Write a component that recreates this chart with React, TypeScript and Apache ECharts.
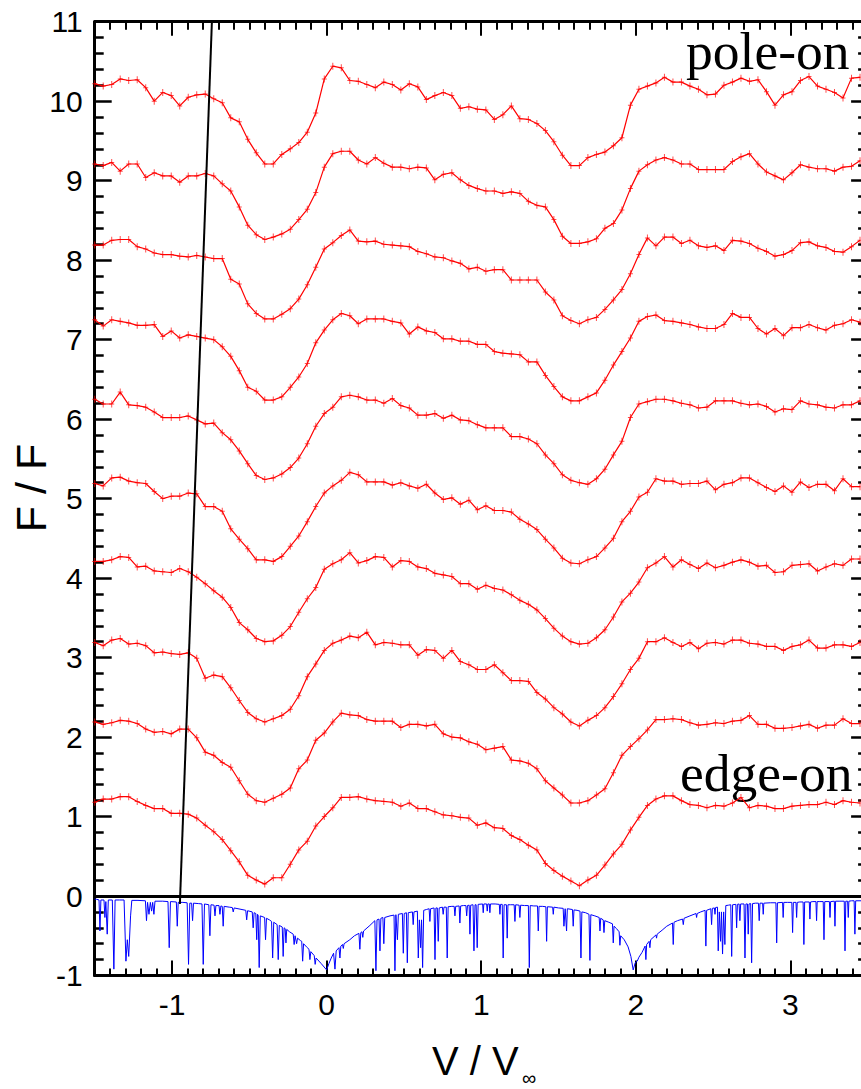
import React, { useEffect, useRef } from "react";
import * as echarts from "echarts";

// velocity grid of the model profiles (V / V_inf)
const velocity = [
  -1.5, -1.445, -1.39, -1.335, -1.28, -1.225, -1.17, -1.115, -1.06, -1.005,
  -0.95, -0.895, -0.84, -0.785, -0.73, -0.675, -0.62, -0.565, -0.51, -0.455,
  -0.4, -0.345, -0.29, -0.235, -0.18, -0.125, -0.07, -0.015, 0.04, 0.095,
  0.15, 0.205, 0.26, 0.315, 0.37, 0.425, 0.48, 0.535, 0.59, 0.645,
  0.7, 0.755, 0.81, 0.865, 0.92, 0.975, 1.03, 1.085, 1.14, 1.195,
  1.25, 1.305, 1.36, 1.415, 1.47, 1.525, 1.58, 1.635, 1.69, 1.745,
  1.8, 1.855, 1.91, 1.965, 2.02, 2.075, 2.13, 2.185, 2.24, 2.295,
  2.35, 2.405, 2.46, 2.515, 2.57, 2.625, 2.68, 2.735, 2.79, 2.845,
  2.9, 2.955, 3.01, 3.065, 3.12, 3.175, 3.23, 3.285, 3.34, 3.395, 3.45,
];

// profiles, from edge-on (1) to pole-on (10), offset by 1 each
const profile1 = [
  1.18, 1.22, 1.22, 1.25, 1.25, 1.19, 1.14, 1.1, 1.1, 1.04, 1.04, 1.03, 0.98, 0.89, 0.81, 0.71, 0.57, 0.43, 0.26, 0.2,
  0.15, 0.23, 0.23, 0.4, 0.58, 0.69, 0.88, 1.0, 1.11, 1.24, 1.24, 1.25, 1.22, 1.2, 1.19, 1.18, 1.13, 1.17, 1.1, 1.1,
  1.06, 1.02, 1.01, 0.99, 0.98, 0.89, 0.92, 0.86, 0.85, 0.76, 0.71, 0.64, 0.58, 0.41, 0.32, 0.25, 0.19, 0.13, 0.2, 0.26,
  0.39, 0.53, 0.65, 0.83, 0.99, 1.14, 1.22, 1.26, 1.26, 1.2, 1.15, 1.14, 1.11, 1.14, 1.13, 1.17, 1.24, 1.11, 1.14, 1.13,
  1.1, 1.1, 1.13, 1.14, 1.15, 1.15, 1.18, 1.15, 1.2, 1.18, 1.17,
];
const profile2 = [
  2.19, 2.16, 2.18, 2.21, 2.2, 2.17, 2.1, 2.06, 2.07, 2.04, 2.1, 2.1, 1.99, 1.81, 1.77, 1.68, 1.62, 1.45, 1.28, 1.2,
  1.18, 1.23, 1.28, 1.36, 1.6, 1.71, 1.96, 2.05, 2.19, 2.3, 2.28, 2.27, 2.22, 2.2, 2.2, 2.2, 2.12, 2.16, 2.16, 2.14,
  2.16, 2.04, 2.0, 1.99, 1.94, 1.91, 1.84, 1.86, 1.88, 1.71, 1.7, 1.67, 1.6, 1.45, 1.36, 1.27, 1.17, 1.17, 1.2, 1.27,
  1.35, 1.55, 1.77, 1.88, 1.98, 2.09, 2.22, 2.22, 2.23, 2.22, 2.18, 2.15, 2.16, 2.18, 2.17, 2.2, 2.21, 2.27, 2.16, 2.16,
  2.11, 2.11, 2.12, 2.14, 2.16, 2.11, 2.15, 2.15, 2.23, 2.17, 2.17,
];
const profile3 = [
  3.19, 3.15, 3.22, 3.24, 3.17, 3.18, 3.15, 3.06, 3.07, 3.05, 3.04, 3.06, 2.99, 2.74, 2.78, 2.76, 2.62, 2.46, 2.31, 2.23,
  2.19, 2.23, 2.27, 2.35, 2.52, 2.76, 2.92, 3.09, 3.18, 3.22, 3.27, 3.25, 3.32, 3.16, 3.19, 3.18, 3.16, 3.16, 3.03, 3.1,
  3.09, 2.99, 3.09, 2.95, 2.91, 2.85, 2.85, 2.91, 2.81, 2.71, 2.71, 2.7, 2.56, 2.48, 2.37, 2.29, 2.19, 2.14, 2.21, 2.27,
  2.37, 2.51, 2.67, 2.85, 2.99, 3.2, 3.2, 3.25, 3.19, 3.14, 3.19, 3.11, 3.18, 3.19, 3.17, 3.22, 3.22, 3.18, 3.17, 3.14,
  3.14, 3.09, 3.14, 3.16, 3.22, 3.12, 3.12, 3.16, 3.16, 3.14, 3.19,
];
const profile4 = [
  4.21, 4.21, 4.23, 4.27, 4.26, 4.14, 4.15, 4.09, 4.08, 4.07, 4.12, 4.08, 4.01, 3.93, 3.84, 3.76, 3.63, 3.44, 3.35, 3.24,
  3.2, 3.21, 3.28, 3.39, 3.57, 3.74, 3.88, 4.11, 4.18, 4.23, 4.32, 4.19, 4.22, 4.27, 4.26, 4.14, 4.22, 4.21, 4.14, 4.12,
  4.06, 4.04, 4.02, 3.93, 3.93, 3.86, 3.91, 3.87, 3.85, 3.79, 3.72, 3.67, 3.6, 3.49, 3.37, 3.27, 3.2, 3.17, 3.18, 3.25,
  3.35, 3.51, 3.7, 3.81, 3.95, 4.13, 4.19, 4.27, 4.14, 4.23, 4.17, 4.12, 4.19, 4.13, 4.16, 4.2, 4.23, 4.2, 4.15, 4.16,
  4.07, 4.08, 4.16, 4.17, 4.18, 4.09, 4.14, 4.18, 4.16, 4.24, 4.24,
];
const profile5 = [
  5.19, 5.16, 5.26, 5.27, 5.22, 5.2, 5.19, 5.09, 5.0, 5.03, 5.03, 5.07, 5.06, 4.9, 4.9, 4.84, 4.62, 4.49, 4.37, 4.23,
  4.23, 4.21, 4.27, 4.4, 4.53, 4.71, 4.9, 5.07, 5.16, 5.23, 5.33, 5.3, 5.21, 5.21, 5.21, 5.17, 5.2, 5.16, 5.13, 5.18,
  5.07, 4.99, 5.01, 4.93, 4.98, 4.86, 4.91, 4.85, 4.85, 4.83, 4.74, 4.68, 4.61, 4.49, 4.38, 4.25, 4.19, 4.18, 4.23, 4.27,
  4.38, 4.5, 4.71, 4.84, 5.02, 5.08, 5.25, 5.22, 5.22, 5.18, 5.19, 5.19, 5.22, 5.11, 5.18, 5.2, 5.26, 5.26, 5.2, 5.14,
  5.09, 5.16, 5.08, 5.21, 5.14, 5.18, 5.18, 5.1, 5.25, 5.15, 5.15,
];
const profile6 = [
  6.25, 6.19, 6.19, 6.34, 6.18, 6.17, 6.15, 6.09, 6.02, 6.02, 6.02, 6.04, 5.99, 5.94, 5.95, 5.83, 5.74, 5.6, 5.44, 5.29,
  5.24, 5.26, 5.31, 5.39, 5.51, 5.69, 5.91, 6.07, 6.15, 6.28, 6.3, 6.28, 6.24, 6.24, 6.2, 6.26, 6.17, 6.14, 6.05, 6.05,
  6.07, 6.01, 6.05, 5.99, 5.98, 5.93, 5.89, 5.89, 5.89, 5.78, 5.78, 5.75, 5.69, 5.55, 5.44, 5.3, 5.23, 5.2, 5.18, 5.25,
  5.37, 5.55, 5.72, 6.02, 6.19, 6.22, 6.25, 6.25, 6.23, 6.2, 6.18, 6.14, 6.15, 6.23, 6.23, 6.23, 6.2, 6.18, 6.19, 6.16,
  6.09, 6.13, 6.12, 6.23, 6.19, 6.18, 6.15, 6.14, 6.18, 6.18, 6.23,
];
const profile7 = [
  7.25, 7.17, 7.25, 7.23, 7.21, 7.18, 7.18, 7.19, 7.04, 7.11, 7.02, 7.06, 7.04, 7.02, 7.0, 6.91, 6.79, 6.61, 6.4, 6.35,
  6.24, 6.24, 6.28, 6.4, 6.53, 6.7, 6.96, 7.12, 7.25, 7.33, 7.3, 7.2, 7.26, 7.26, 7.26, 7.23, 7.21, 7.07, 7.16, 7.11,
  7.09, 7.01, 7.01, 6.98, 6.98, 6.94, 6.94, 6.85, 6.83, 6.82, 6.81, 6.72, 6.72, 6.55, 6.41, 6.28, 6.23, 6.23, 6.28, 6.33,
  6.49, 6.68, 6.85, 7.02, 7.23, 7.29, 7.31, 7.24, 7.23, 7.21, 7.19, 7.16, 7.14, 7.14, 7.19, 7.33, 7.28, 7.28, 7.14, 7.07,
  7.14, 7.05, 7.15, 7.15, 7.19, 7.15, 7.12, 7.18, 7.2, 7.25, 7.22,
];
const profile8 = [
  8.19, 8.19, 8.25, 8.26, 8.26, 8.17, 8.14, 8.09, 8.07, 8.07, 8.05, 8.04, 8.06, 8.04, 8.02, 8.02, 7.76, 7.7, 7.45, 7.33,
  7.26, 7.26, 7.32, 7.39, 7.51, 7.69, 7.91, 8.14, 8.22, 8.31, 8.38, 8.24, 8.23, 8.24, 8.2, 8.19, 8.18, 8.17, 8.11, 8.08,
  8.04, 8.03, 7.99, 7.96, 7.89, 7.91, 7.86, 7.88, 7.88, 7.75, 7.75, 7.75, 7.75, 7.6, 7.5, 7.3, 7.24, 7.2, 7.25, 7.28,
  7.38, 7.5, 7.63, 7.83, 8.07, 8.28, 8.18, 8.29, 8.29, 8.21, 8.25, 8.18, 8.16, 8.18, 8.12, 8.25, 8.24, 8.21, 8.15, 8.11,
  8.05, 8.07, 8.12, 8.22, 8.23, 8.18, 8.16, 8.11, 8.1, 8.17, 8.25,
];
const profile9 = [
  9.21, 9.19, 9.23, 9.12, 9.21, 9.21, 9.04, 9.1, 9.06, 9.06, 8.98, 9.06, 9.06, 9.09, 9.06, 8.96, 8.87, 8.67, 8.44, 8.32,
  8.26, 8.29, 8.33, 8.39, 8.51, 8.64, 8.85, 9.17, 9.34, 9.37, 9.37, 9.26, 9.21, 9.29, 9.22, 9.17, 9.17, 9.15, 9.17, 9.16,
  9.01, 9.08, 9.1, 9.01, 8.94, 8.9, 8.87, 8.87, 8.84, 8.86, 8.84, 8.74, 8.69, 8.67, 8.51, 8.3, 8.21, 8.21, 8.23, 8.27,
  8.4, 8.46, 8.63, 8.9, 9.12, 9.2, 9.26, 9.29, 9.26, 9.21, 9.21, 9.14, 9.14, 9.14, 9.14, 9.24, 9.3, 9.34, 9.21, 9.11,
  9.06, 9.01, 9.1, 9.2, 9.17, 9.15, 9.15, 9.12, 9.17, 9.18, 9.25,
];
const profile10 = [
  10.22, 10.19, 10.21, 10.28, 10.26, 10.27, 10.17, 10.0, 10.11, 10.07, 9.94, 10.05, 10.08, 10.09, 10.03, 9.98, 9.79, 9.74, 9.52, 9.35,
  9.21, 9.21, 9.33, 9.4, 9.48, 9.61, 9.85, 10.28, 10.44, 10.42, 10.26, 10.25, 10.21, 10.17, 10.24, 10.21, 10.14, 10.22, 10.18, 10.02,
  10.07, 10.11, 10.07, 9.91, 9.93, 9.9, 9.89, 9.77, 9.83, 9.94, 9.78, 9.77, 9.72, 9.63, 9.49, 9.32, 9.19, 9.19, 9.29, 9.33,
  9.36, 9.44, 9.54, 9.95, 10.15, 10.19, 10.23, 10.3, 10.24, 10.24, 10.19, 10.15, 10.08, 10.09, 10.2, 10.24, 10.29, 10.25, 10.27, 10.12,
  9.95, 10.08, 10.12, 10.26, 10.31, 10.19, 10.15, 10.11, 10.04, 10.29, 10.3,
];
const profiles = [profile1, profile2, profile3, profile4, profile5, profile6, profile7, profile8, profile9, profile10];

// observed (blue) spectrum, [V/V_inf, flux - 1]
const spectrum: [number, number][] = [
  [-1.5, -0.04], [-1.49, -0.04],
  [-1.472, -0.05], [-1.466, -0.44], [-1.46, -0.05],
  [-1.44, -0.05], [-1.434, -0.27], [-1.428, -0.07], [-1.419, -0.48], [-1.412, -0.05],
  [-1.386, -0.05], [-1.376, -0.92], [-1.368, -0.05],
  [-1.34, -0.05],
  [-1.31, -0.05], [-1.298, -0.82], [-1.289, -0.55], [-1.28, -0.76], [-1.268, -0.25], [-1.26, -0.055],
  [-1.22, -0.055],
  [-1.172, -0.06], [-1.165, -0.31], [-1.158, -0.08], [-1.149, -0.23], [-1.14, -0.08], [-1.132, -0.19], [-1.125, -0.08], [-1.117, -0.23], [-1.11, -0.065],
  [-1.06, -0.065],
  [-1.026, -0.07], [-1.018, -0.65], [-1.01, -0.07],
  [-0.972, -0.075], [-0.966, -0.38], [-0.96, -0.08],
  [-0.93, -0.08],
  [-0.902, -0.085], [-0.893, -0.86], [-0.885, -0.09],
  [-0.873, -0.09], [-0.867, -0.31], [-0.861, -0.09],
  [-0.83, -0.095],
  [-0.806, -0.1], [-0.798, -0.86], [-0.79, -0.1],
  [-0.762, -0.11], [-0.755, -0.5], [-0.748, -0.11],
  [-0.728, -0.115], [-0.722, -0.25], [-0.716, -0.12],
  [-0.696, -0.12], [-0.69, -0.23], [-0.684, -0.125],
  [-0.675, -0.13], [-0.669, -0.38], [-0.663, -0.13],
  [-0.63, -0.14],
  [-0.61, -0.145], [-0.604, -0.2], [-0.598, -0.15],
  [-0.56, -0.165],
  [-0.523, -0.18], [-0.517, -0.3], [-0.511, -0.185],
  [-0.481, -0.2], [-0.475, -0.4], [-0.469, -0.21],
  [-0.458, -0.22], [-0.452, -0.55], [-0.447, -0.23],
  [-0.443, -0.24], [-0.436, -0.9], [-0.429, -0.25],
  [-0.401, -0.27], [-0.395, -0.55], [-0.389, -0.28],
  [-0.37, -0.3],
  [-0.356, -0.32], [-0.349, -0.78], [-0.342, -0.33],
  [-0.32, -0.36], [-0.313, -0.8], [-0.306, -0.37],
  [-0.287, -0.39], [-0.281, -0.76], [-0.275, -0.4],
  [-0.268, -0.41], [-0.263, -0.59], [-0.258, -0.42],
  [-0.24, -0.45],
  [-0.216, -0.48], [-0.21, -0.61], [-0.204, -0.5], [-0.194, -0.6], [-0.188, -0.53],
  [-0.17, -0.56],
  [-0.161, -0.57], [-0.155, -0.82], [-0.149, -0.6],
  [-0.13, -0.64],
  [-0.114, -0.67], [-0.108, -0.8], [-0.102, -0.7],
  [-0.08, -0.75], [-0.074, -0.86], [-0.068, -0.78],
  [-0.035, -0.85],
  [0, -0.93],
  [0.015, -0.85],
  [0.03, -0.78],
  [0.045, -0.72], [0.054, -0.92], [0.062, -0.69],
  [0.08, -0.65], [0.086, -0.78], [0.092, -0.63],
  [0.103, -0.61], [0.108, -0.66], [0.113, -0.6],
  [0.15, -0.55],
  [0.18, -0.5],
  [0.209, -0.47], [0.215, -0.67], [0.221, -0.46],
  [0.229, -0.45], [0.234, -0.52], [0.239, -0.44],
  [0.28, -0.37],
  [0.312, -0.31], [0.319, -0.94], [0.326, -0.3],
  [0.339, -0.29], [0.345, -0.69], [0.351, -0.28],
  [0.364, -0.27], [0.37, -0.6], [0.376, -0.27],
  [0.41, -0.25],
  [0.436, -0.24], [0.442, -0.94], [0.448, -0.235],
  [0.452, -0.235], [0.458, -0.55], [0.464, -0.23],
  [0.49, -0.22], [0.496, -0.72], [0.502, -0.22],
  [0.516, -0.21], [0.522, -0.84], [0.528, -0.21],
  [0.555, -0.2], [0.56, -0.36], [0.565, -0.2],
  [0.587, -0.19], [0.593, -0.78], [0.6, -0.3], [0.608, -0.65], [0.614, -0.3], [0.621, -0.9], [0.628, -0.18],
  [0.645, -0.17],
  [0.663, -0.16], [0.668, -0.32], [0.673, -0.16],
  [0.695, -0.15], [0.701, -0.8], [0.707, -0.15],
  [0.716, -0.15], [0.722, -0.57], [0.728, -0.15],
  [0.749, -0.14], [0.754, -0.23], [0.759, -0.14],
  [0.774, -0.14], [0.78, -0.78], [0.786, -0.135],
  [0.81, -0.13],
  [0.825, -0.13], [0.83, -0.25], [0.835, -0.13],
  [0.857, -0.125], [0.862, -0.34], [0.867, -0.125],
  [0.885, -0.12],
  [0.901, -0.12], [0.906, -0.25], [0.911, -0.12],
  [0.922, -0.115], [0.927, -0.48], [0.932, -0.115],
  [0.947, -0.11], [0.953, -0.69], [0.96, -0.11],
  [0.967, -0.11], [0.974, -0.65], [0.98, -0.105],
  [1.009, -0.1], [1.013, -0.21], [1.017, -0.1],
  [1.035, -0.1], [1.039, -0.19], [1.043, -0.1],
  [1.052, -0.1], [1.056, -0.21], [1.06, -0.1],
  [1.09, -0.1],
  [1.117, -0.105], [1.121, -0.23], [1.125, -0.105],
  [1.136, -0.105], [1.142, -0.78], [1.148, -0.11],
  [1.163, -0.11], [1.168, -0.53], [1.173, -0.11],
  [1.19, -0.11],
  [1.213, -0.11], [1.218, -0.32], [1.223, -0.11],
  [1.245, -0.115], [1.25, -0.27], [1.255, -0.115],
  [1.28, -0.12],
  [1.305, -0.12], [1.311, -0.9], [1.317, -0.12],
  [1.34, -0.125],
  [1.364, -0.125], [1.369, -0.44], [1.374, -0.13],
  [1.395, -0.13],
  [1.418, -0.135], [1.423, -0.57], [1.428, -0.135],
  [1.462, -0.14], [1.466, -0.23], [1.47, -0.14],
  [1.5, -0.15],
  [1.53, -0.155], [1.535, -0.38], [1.543, -0.16], [1.552, -0.44], [1.557, -0.16],
  [1.59, -0.17], [1.595, -0.38], [1.6, -0.175],
  [1.62, -0.18],
  [1.639, -0.19], [1.645, -0.78], [1.651, -0.2],
  [1.675, -0.21],
  [1.697, -0.23], [1.703, -0.81], [1.709, -0.235],
  [1.735, -0.25],
  [1.763, -0.27], [1.768, -0.44], [1.773, -0.28],
  [1.789, -0.3], [1.794, -0.46], [1.799, -0.31],
  [1.825, -0.33],
  [1.849, -0.35], [1.854, -0.59], [1.859, -0.38],
  [1.875, -0.41],
  [1.892, -0.45], [1.897, -0.62], [1.902, -0.5],
  [1.925, -0.55],
  [1.95, -0.64],
  [1.968, -0.76],
  [1.983, -0.93],
  [1.996, -0.84],
  [2.009, -0.82],
  [2.02, -0.77],
  [2.04, -0.71],
  [2.06, -0.63], [2.065, -0.8], [2.07, -0.61],
  [2.086, -0.57], [2.091, -0.65], [2.096, -0.55],
  [2.13, -0.49], [2.134, -0.53], [2.138, -0.48],
  [2.17, -0.43],
  [2.2, -0.38],
  [2.237, -0.34], [2.242, -0.61], [2.247, -0.33],
  [2.27, -0.31],
  [2.302, -0.29], [2.307, -0.36], [2.312, -0.28],
  [2.35, -0.25],
  [2.389, -0.22], [2.393, -0.27], [2.397, -0.22],
  [2.42, -0.2],
  [2.448, -0.18], [2.453, -0.63], [2.458, -0.18],
  [2.485, -0.16], [2.49, -0.36], [2.495, -0.155],
  [2.508, -0.15], [2.512, -0.23], [2.516, -0.145],
  [2.528, -0.14], [2.533, -0.69], [2.54, -0.2], [2.548, -0.57], [2.554, -0.2], [2.561, -0.73], [2.568, -0.2], [2.576, -0.61], [2.582, -0.12],
  [2.6, -0.115],
  [2.614, -0.11], [2.62, -0.76], [2.626, -0.11],
  [2.647, -0.105], [2.652, -0.4], [2.657, -0.105],
  [2.668, -0.1], [2.673, -0.31], [2.678, -0.1],
  [2.7, -0.1], [2.706, -0.78], [2.712, -0.1],
  [2.722, -0.1], [2.727, -0.48], [2.732, -0.1],
  [2.743, -0.095], [2.749, -0.84], [2.755, -0.095],
  [2.775, -0.09],
  [2.793, -0.09], [2.798, -0.31], [2.803, -0.09],
  [2.82, -0.09], [2.824, -0.23], [2.828, -0.09],
  [2.87, -0.085],
  [2.906, -0.085], [2.911, -0.59], [2.916, -0.085],
  [2.949, -0.08], [2.953, -0.27], [2.957, -0.08],
  [2.98, -0.08],
  [3.009, -0.08], [3.014, -0.46], [3.019, -0.08],
  [3.036, -0.08], [3.04, -0.27], [3.044, -0.08],
  [3.06, -0.075],
  [3.082, -0.075], [3.087, -0.61], [3.092, -0.075],
  [3.122, -0.075], [3.126, -0.29], [3.13, -0.075],
  [3.145, -0.07],
  [3.165, -0.07], [3.169, -0.31], [3.173, -0.07],
  [3.19, -0.07],
  [3.212, -0.07], [3.217, -0.55], [3.222, -0.07],
  [3.252, -0.07], [3.256, -0.27], [3.26, -0.07],
  [3.284, -0.065], [3.288, -0.38], [3.292, -0.065],
  [3.32, -0.065],
  [3.348, -0.065], [3.353, -0.69], [3.358, -0.065],
  [3.37, -0.065], [3.374, -0.27], [3.378, -0.065],
  [3.395, -0.06],
  [3.412, -0.06], [3.417, -0.48], [3.422, -0.06],
  [3.45, -0.06], [3.47, -0.06],
];

// straight black guide line
const guideLine: [number, number][] = [
  [-0.949, -0.1],
  [-0.742, 11],
];

const xMajorTicks = [-1, 0, 1, 2, 3];
const X_MIN = -1.5;
const X_MAX = 3.47;
const Y_MIN = -1;
const Y_MAX = 11;

const PLUS = "path://M2,0H3V3H5V4H3V7H2V4H0V3H2Z";

export default function App() {
  const ref = useRef<HTMLDivElement>(null);

  useEffect(() => {
    if (!ref.current) return;
    const chart = echarts.init(ref.current, null, { renderer: "svg" });
    const black = "#000";
    const labelFont = "Liberation Sans";
    const serifFont = "Liberation Serif";

    const xBase = {
      type: "value" as const,
      min: X_MIN,
      max: X_MAX,
      splitLine: { show: false },
    };

    const redSeries = profiles.map((p, k) => ({
      type: "line",
      name: "profile" + (k + 1),
      data: velocity.map((v, i) => [v, p[i]]),
      xAxisIndex: 0,
      yAxisIndex: 0,
      symbol: PLUS,
      symbolSize: [5, 7],
      showSymbol: true,
      lineStyle: { color: "#ff0000", width: 1.2 },
      itemStyle: { color: "rgba(255,0,0,0.7)" },
      z: 3,
    }));

    const option = {
      animation: false,
      backgroundColor: "#fff",
      grid: { left: 94.7, top: 21.7, width: 768.4, height: 953.8 },
      xAxis: [
        {
          ...xBase,
          position: "bottom",
          axisLine: { show: true, onZero: false, lineStyle: { color: black, width: 3 } },
          axisTick: {
            show: true,
            inside: true,
            length: 15,
            customValues: xMajorTicks,
            lineStyle: { color: black, width: 2 },
          },
          axisLabel: {
            show: true,
            customValues: xMajorTicks,
            fontSize: 30,
            color: black,
            fontFamily: labelFont,
            margin: 14,
          },
        },
        {
          ...xBase,
          position: "bottom",
          interval: 0.1,
          axisLine: { show: false, onZero: false },
          axisTick: { show: true, inside: true, length: 7, lineStyle: { color: black, width: 2 } },
          axisLabel: { show: false },
        },
        {
          ...xBase,
          position: "top",
          axisLine: { show: true, onZero: false, lineStyle: { color: black, width: 3 } },
          axisTick: {
            show: true,
            inside: true,
            length: 14,
            customValues: xMajorTicks,
            lineStyle: { color: black, width: 2 },
          },
          axisLabel: { show: false },
        },
        {
          ...xBase,
          position: "top",
          interval: 0.1,
          axisLine: { show: false, onZero: false },
          axisTick: { show: true, inside: true, length: 8, lineStyle: { color: black, width: 2 } },
          axisLabel: { show: false },
        },
      ],
      yAxis: [
        {
          type: "value",
          min: Y_MIN,
          max: Y_MAX,
          interval: 1,
          position: "left",
          axisLine: { show: true, onZero: false, lineStyle: { color: black, width: 3 } },
          axisTick: { show: true, inside: true, length: 17, lineStyle: { color: black, width: 2.5 } },
          minorTick: { show: true, splitNumber: 5, length: 9, lineStyle: { color: black, width: 2.5 } },
          axisLabel: { fontSize: 30, color: black, fontFamily: labelFont, margin: 12 },
          splitLine: { show: false },
        },
        {
          type: "value",
          min: Y_MIN,
          max: Y_MAX,
          interval: 1,
          position: "right",
          axisLine: { show: true, onZero: false, lineStyle: { color: black, width: 3 } },
          axisTick: { show: true, inside: true, length: 12, lineStyle: { color: black, width: 2.5 } },
          minorTick: { show: true, splitNumber: 5, length: 5, lineStyle: { color: black, width: 2.5 } },
          axisLabel: { show: false },
          splitLine: { show: false },
        },
      ],
      series: [
        {
          type: "line",
          name: "spectrum",
          data: spectrum,
          xAxisIndex: 0,
          yAxisIndex: 0,
          symbol: "none",
          lineStyle: { color: "#0000ff", width: 1 },
          z: 2,
          markLine: {
            silent: true,
            symbol: "none",
            label: { show: false },
            lineStyle: { color: black, width: 3, type: "solid" },
            data: [{ yAxis: 0 }],
          },
        },
        {
          type: "line",
          name: "guide",
          data: guideLine,
          xAxisIndex: 0,
          yAxisIndex: 0,
          symbol: "none",
          lineStyle: { color: black, width: 2 },
          z: 4,
        },
        ...redSeries,
      ],
      graphic: [
        {
          type: "text",
          x: 686,
          y: 51,
          scaleX: 1.03,
          style: {
            text: "pole-on",
            fontSize: 52,
            fontFamily: serifFont,
            fill: black,
            textVerticalAlign: "middle",
          },
        },
        {
          type: "text",
          x: 680,
          y: 773,
          scaleX: 1.03,
          style: {
            text: "edge-on",
            fontSize: 52,
            fontFamily: serifFont,
            fill: black,
            textVerticalAlign: "middle",
          },
        },
        {
          type: "text",
          x: 432,
          y: 1061,
          style: {
            text: "V / V",
            fontSize: 40,
            lineHeight: 30,
            fontFamily: labelFont,
            fill: black,
            textVerticalAlign: "middle",
          },
        },
        {
          type: "text",
          x: 522,
          y: 1078,
          style: {
            text: "\u221e",
            fontSize: 20,
            lineHeight: 12,
            fontFamily: labelFont,
            fill: black,
            textVerticalAlign: "middle",
          },
        },
        {
          type: "text",
          x: 31,
          y: 488,
          rotation: Math.PI / 2,
          style: {
            text: "F / F",
            fontSize: 43,
            fontFamily: labelFont,
            fill: black,
            textAlign: "center",
            textVerticalAlign: "middle",
          },
        },
      ],
    };

    chart.setOption(option as any);
    return () => chart.dispose();
  }, []);

  return (
    <div
      style={{
        position: "fixed",
        left: 0,
        top: 0,
        width: 861,
        height: 1089,
        overflow: "hidden",
        background: "#fff",
      }}
    >
      <div ref={ref} style={{ width: 880, height: 1089 }} />
    </div>
  );
}
